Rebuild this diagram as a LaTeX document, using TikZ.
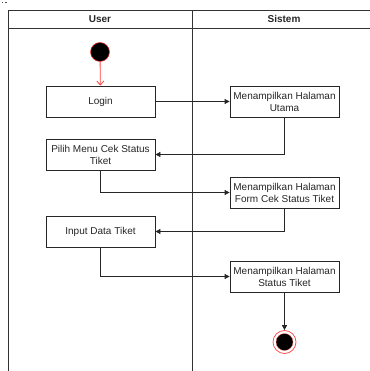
\documentclass[tikz,border=0pt]{standalone}
\usepackage{fontspec}
\setmainfont{Liberation Sans}
\usetikzlibrary{arrows.meta}
\begin{document}
\begin{tikzpicture}[x=1pt,y=-1pt,
  actbox/.style={draw=black!85,line width=0.8pt,fill=white,minimum width=109pt,minimum height=31pt,inner sep=1pt,
    align=center,font=\fontsize{10}{12}\selectfont,text=black!85},
  lane/.style={draw=black!80,line width=0.8pt},
  flow/.style={draw=black!85,line width=0.8pt,-{Triangle[length=5pt,width=5pt]}},
  hdr/.style={font=\fontsize{10}{12}\selectfont\bfseries,text=black!85}]
\useasboundingbox (0,0) rectangle (369,371);
% tiny marks at top left
\fill[black!70] (1.5,2) rectangle (3,3.5);
\fill[black!70] (5,2) rectangle (6.5,3.5);
% swimlane frame
\draw[lane] (8,380) -- (8,10) -- (380,10);
\draw[lane] (8,28) -- (380,28);
\draw[lane] (192,10) -- (192,380);
\node[hdr] (hu) at (100,19) {User};
\node[hdr] (hs) at (284,19) {Sistem};
% start
\node[circle,fill=black,draw=red!80,line width=0.5pt,minimum size=19pt,inner sep=0pt] (start) at (100,52) {};
% activities
\node[actbox] (login) at (100.5,101.5) {Login};
\node[actbox] (utama) at (284.5,101.5) {Menampilkan Halaman\\Utama};
\node[actbox] (pilih) at (100.5,154.5) {Pilih Menu Cek Status\\Tiket};
\node[actbox] (form) at (284.5,192.5) {Menampilkan Halaman\\Form Cek Status Tiket};
\node[actbox] (input) at (100.5,231.5) {Input Data Tiket};
\node[actbox] (status) at (284.5,276.5) {Menampilkan Halaman\\Status Tiket};
% end
\node[circle,draw=red!75,line width=0.7pt,fill=white,minimum size=23pt,inner sep=0pt] (end) at (284.5,342) {};
\node[circle,fill=black,draw=red!60,line width=0.3pt,minimum size=17pt,inner sep=0pt] (endin) at (end.center) {};
% connectors
\draw[red!75,line width=0.8pt,-{Straight Barb[length=4pt,width=7pt]}] (start) -- (login);
\draw[flow] (login) -- (utama);
\draw[flow] (utama.south) |- (pilih.east);
\draw[flow] (pilih.south) |- (form.west);
\draw[flow] (form.south) |- (input.east);
\draw[flow] (input.south) |- (status.west);
\draw[flow] (status.south) -- (end.north);
\end{tikzpicture}
\end{document}
